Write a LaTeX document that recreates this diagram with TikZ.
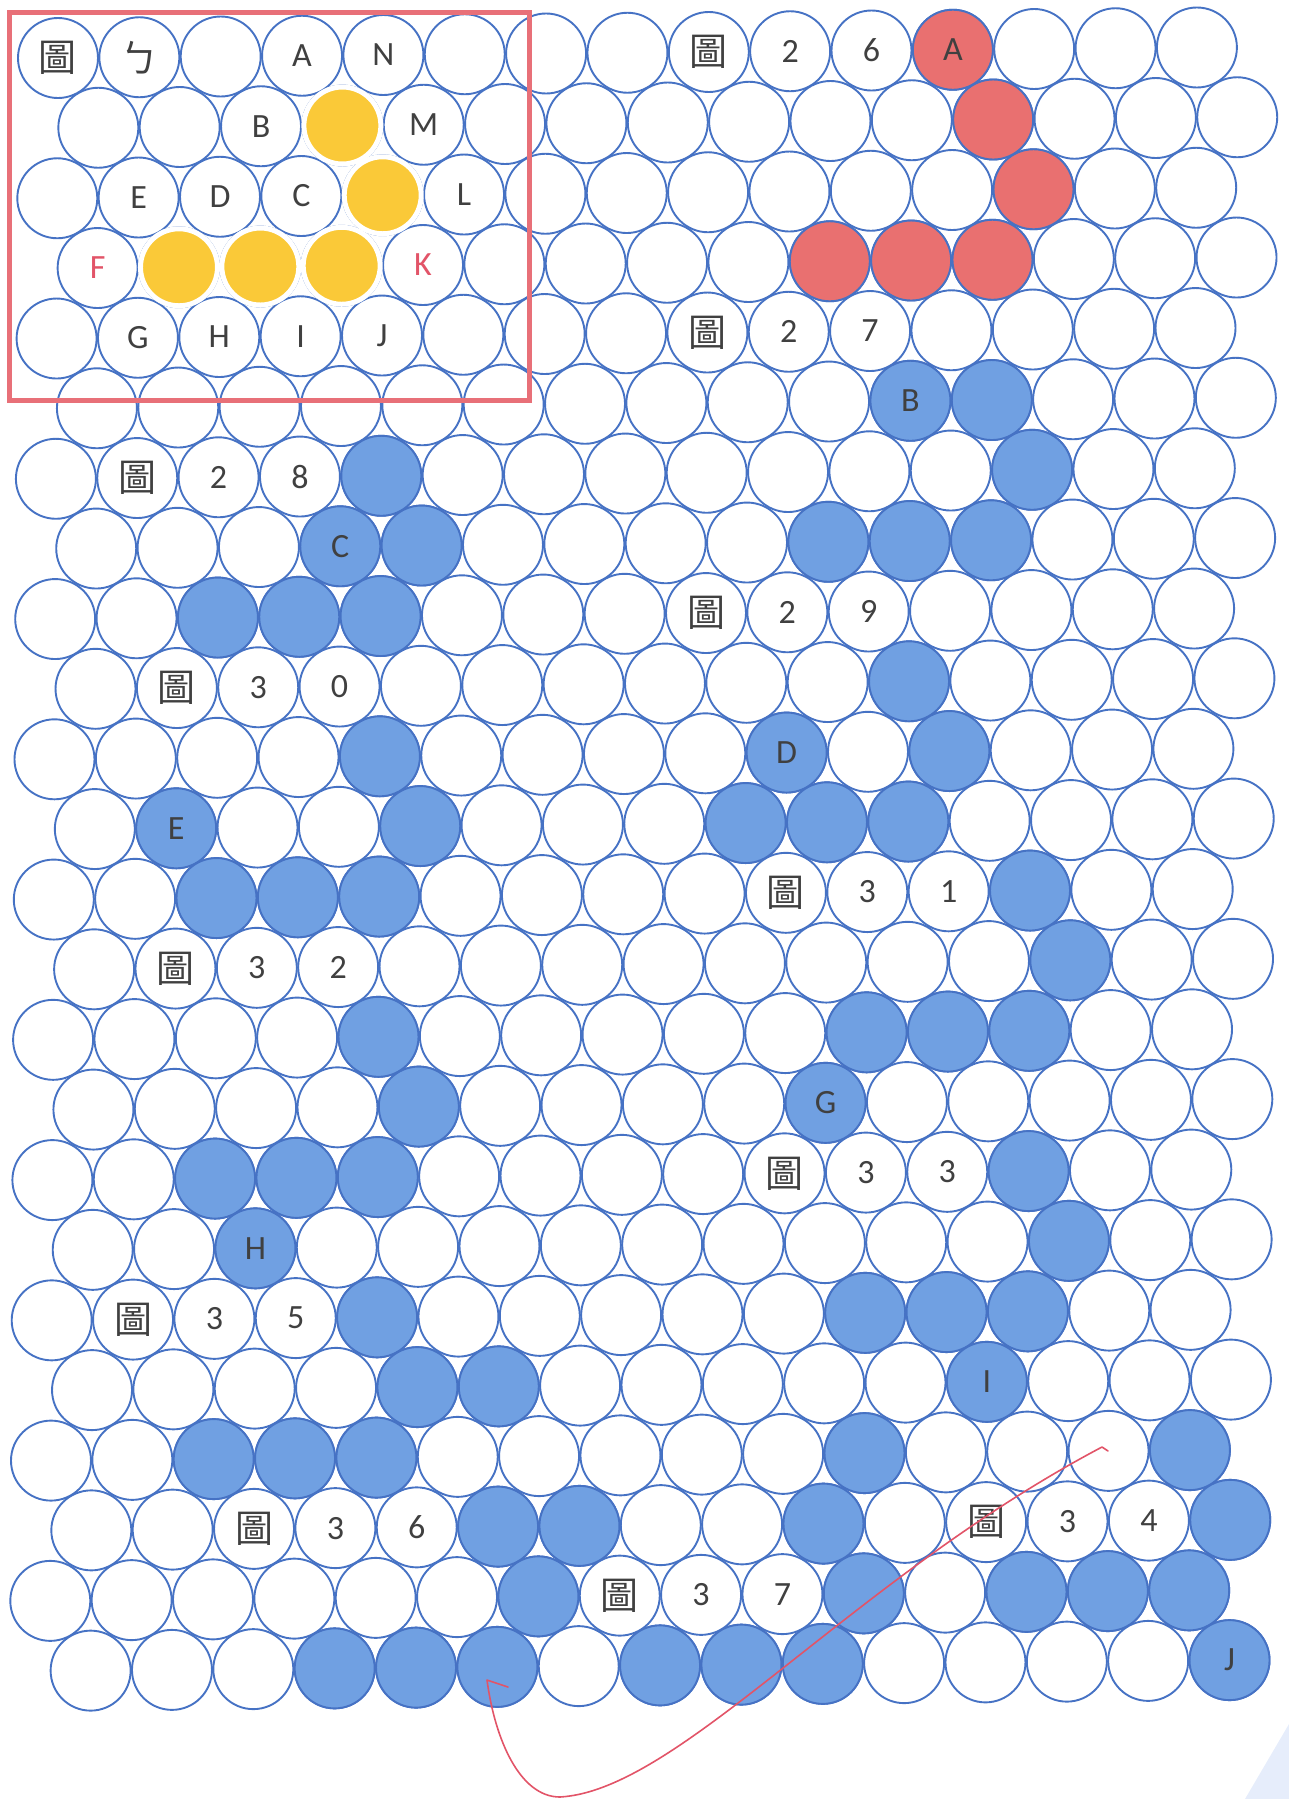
\documentclass[tikz,border=0pt]{standalone}
\usepackage{fontspec}
\setmainfont{Carlito}
\newfontfamily\cjk{Noto Sans CJK TC}
\usetikzlibrary{positioning}

\definecolor{ring}{RGB}{70,114,196}
\definecolor{bluefill}{RGB}{112,160,226}
\definecolor{redfill}{RGB}{233,112,112}
\definecolor{goldfill}{RGB}{250,201,56}
\definecolor{framered}{RGB}{232,112,120}
\definecolor{inkred}{RGB}{226,84,104}
\definecolor{labelgray}{RGB}{64,64,64}
\definecolor{scanblue}{RGB}{230,237,251}

\begin{document}
\begin{tikzpicture} [x=0.5pt,y=-0.5pt,
        cell/.style={
            circle,
            draw=ring,
            line width=0.95pt,
            fill=white,
            minimum size=40pt,
            inner sep=0pt},
        bluecell/.style={cell,fill=bluefill},
        redcell/.style={cell,fill=redfill},
        goldcell/.style={
            circle,
            draw=white,
            line width=2.5pt,
            fill=goldfill,
            minimum size=38.5pt,
            inner sep=0pt},
        letter/.style={text=labelgray,font=\fontsize{17}{20}\selectfont,inner sep=0pt},
        redletter/.style={letter,text=inkred},
        hanzi/.style={text=labelgray,font=\cjk\fontsize{19}{22}\selectfont,inner sep=0pt}]

    \useasboundingbox (0,0) rectangle (1289,1799);

    %draw the grid of circles
    \foreach \r in {0,...,23} {
        \pgfmathsetmacro{\off}{mod(\r,2)/2}
        \foreach \k in {0,...,14} {
            \pgfmathsetmacro{\xx}{58+(\k+\off)*81.35-0.35*\r}
            \pgfmathsetmacro{\yy}{58-(\k+\off)*0.75+70.13*\r}
            \node[cell] (c\r-\k) at (\xx,\yy) {};
        }
    }

    % filled circles
    \foreach \r/\k in {0/11,1/11,2/12,3/9,3/10,3/11}
        \node[redcell] at (c\r-\k) {};
    \foreach \r/\k in {5/10,5/11,6/4,6/12,7/3,7/4,7/9,7/10,7/11,8/2,8/3,8/4,
            9/10,10/4,10/9,10/11,11/1,11/4,11/8,11/9,11/10,12/2,12/3,12/4,12/12,
            13/12,14/4,14/10,14/11,14/12,15/4,15/9,16/2,16/3,16/4,16/12,
            17/2,17/12,18/4,18/10,18/11,18/12,19/4,19/5,19/11,
            20/2,20/3,20/4,20/10,20/14,21/5,21/6,21/9,21/14,
            22/6,22/10,22/12,22/13,22/14,23/3,23/4,23/5,23/7,23/8,23/9,23/14}
        \node[bluecell] at (c\r-\k) {};
    \foreach \r/\k in {1/3,2/4,3/1,3/2,3/3}
        \node[goldcell] at (c\r-\k) {};

    % labels
    \foreach \r/\k in {0/0,0/8,4/8,6/1,8/8,9/1,12/9,13/1,16/9,18/1,21/2,21/11,22/7}
        \node[hanzi] at (c\r-\k) {圖};
    \node[hanzi] at (c0-1) {ㄅ};
    \foreach \r/\k/\t in {0/3/A,0/4/N,0/9/2,0/10/6,0/11/A,1/2/B,1/4/M,
            2/1/E,2/2/D,2/3/C,2/5/L,4/1/G,4/2/H,4/3/I,4/4/J,4/9/2,4/10/7,
            5/10/B,6/2/2,6/3/8,7/3/C,8/9/2,8/10/9,9/2/3,9/3/0,10/9/D,11/1/E,
            12/10/3,12/11/1,13/2/3,13/3/2,15/9/G,16/10/3,16/11/3,17/2/H,
            18/2/3,18/3/5,19/11/I,21/3/3,21/4/6,21/12/3,21/13/4,
            22/8/3,22/9/7,23/14/J}
        \node[letter] at (c\r-\k) {\t};
    \node[redletter] at (c3-0) {F};
    \node[redletter] at (c3-4) {K};

    % frame round the key
    \draw[framered,line width=2.5pt] (9,12) rectangle (529,400);

    % pen stroke
    \coordinate (pen_start) at (1108,1451);
    \coordinate (pen_turn) at (560,1797);
    \coordinate (pen_tip) at (487,1680);
    \coordinate (pen_barb) at (508,1687);
    \draw[inkred,line width=0.8pt,line cap=round,line join=round]
        (pen_start) -- (1102,1447) .. controls (850,1580) and (680,1790) .. (pen_turn)
        .. controls (520,1797) and (495,1740) .. (pen_tip) -- (pen_barb);

    % scan shadow in the corner
    \fill[scanblue] (1245,1799) -- (1289,1724) -- (1289,1799) -- cycle;

\end{tikzpicture}
\end{document}
